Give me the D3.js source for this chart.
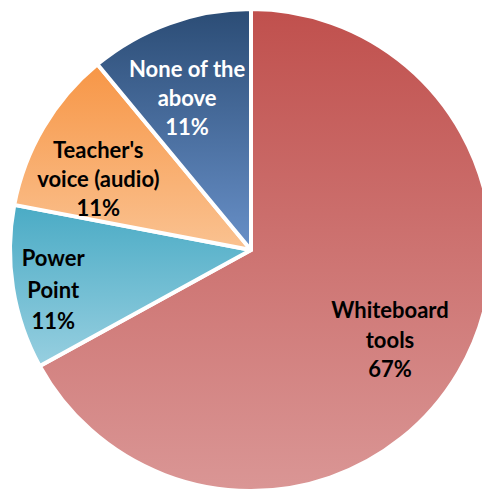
<!DOCTYPE html>
<html>
<head>
<meta charset="utf-8">
<script src="https://cdn.jsdelivr.net/npm/d3@7"></script>
<style>
  html, body { margin: 0; padding: 0; background: #ffffff; }
  svg { display: block; }
</style>
</head>
<body>
<svg id="chart" width="482" height="491"></svg>
<script>
// Share of responses per teaching tool (percent)
const categories = ["Whiteboard tools", "Power Point", "Teacher's voice (audio)", "None of the above"];
const values = [67, 11, 11, 11];
const labelLines = [
  ["Whiteboard", "tools"],
  ["Power", "Point"],
  ["Teacher's", "voice (audio)"],
  ["None of the", "above"]
];
const gradientTop = ["#c0504d", "#4aabc5", "#f79646", "#2b4c75"];
const gradientBottom = ["#da9695", "#97cfe0", "#fac291", "#6890c8"];
const textColors = ["#000000", "#000000", "#000000", "#ffffff"];

const width = 482, height = 491;
const cx = 251, cy = 250, radius = 241;

const svg = d3.select("#chart");
const defs = svg.append("defs");

categories.forEach((c, i) => {
  const g = defs.append("linearGradient")
    .attr("id", "grad" + i)
    .attr("x1", 0).attr("y1", 0).attr("x2", 0).attr("y2", 1);
  g.append("stop").attr("offset", "0%").attr("stop-color", gradientTop[i]);
  g.append("stop").attr("offset", "100%").attr("stop-color", gradientBottom[i]);
});

const pie = d3.pie().sort(null).value(d => d)
  .startAngle(0).endAngle(2 * Math.PI);
const arcs = pie(values);

const arc = d3.arc().innerRadius(0).outerRadius(radius);

const root = svg.append("g").attr("transform", `translate(${cx},${cy})`);

root.selectAll("path.slice")
  .data(arcs)
  .join("path")
  .attr("class", "slice")
  .attr("d", arc)
  .attr("fill", (d, i) => `url(#grad${i})`)
  .attr("stroke", "#ffffff")
  .attr("stroke-width", 4)
  .attr("stroke-linejoin", "round");

// Label placement: radius fraction and angular nudge (degrees) from each slice's mid-angle
const labelRadius = [0.687, 0.837, 0.698, 0.684];
const labelNudge = [2.3, -2.3, -5.8, -3.0];
const lineStep = [29.5, 31.5, 29, 29];

const labels = root.selectAll("text.label")
  .data(arcs)
  .join("text")
  .attr("class", "label")
  .attr("text-anchor", "middle")
  .attr("font-family", "Lato, 'Open Sans', sans-serif")
  .attr("font-weight", "bold")
  .attr("font-size", 22)
  .attr("fill", (d, i) => textColors[i])
  .attr("transform", (d, i) => {
    const a = (d.startAngle + d.endAngle) / 2 + labelNudge[i] * Math.PI / 180;
    const r = radius * labelRadius[i];
    return `translate(${r * Math.sin(a)},${-r * Math.cos(a)})`;
  });

labels.each(function(d, i) {
  const lines = labelLines[i].concat([d3.format(".0f")(d.value) + "%"]);
  const t = d3.select(this);
  lines.forEach((ln, k) => {
    t.append("tspan")
      .attr("x", 0)
      .attr("y", (k - (lines.length - 1) / 2) * lineStep[i] + 8)
      .text(ln);
  });
});
</script>
</body>
</html>
